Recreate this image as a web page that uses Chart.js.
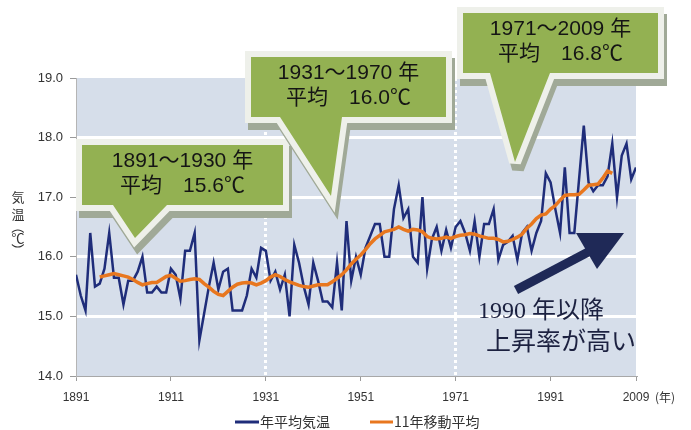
<!DOCTYPE html>
<html lang="ja">
<head>
<meta charset="UTF-8" />
<script src="https://cdn.jsdelivr.net/npm/chart.js@4.4.0/dist/chart.umd.min.js"></script>
<style>
  html, body { margin: 0; padding: 0; background: #fff; }
</style>
</head>
<body>
<canvas id="chart" width="691" height="430"></canvas>
<script>
// annual mean temperature, 1891-2009
const firstYear = 1891;
const annualTemp = [
  15.7, 15.35, 15.1, 16.4, 15.5, 15.55, 15.8, 16.4, 15.65, 15.65,
  15.2, 15.6, 15.6, 15.75, 16.0, 15.4, 15.4, 15.5, 15.4, 15.4,
  15.8, 15.7, 15.3, 16.1, 16.1, 16.4, 14.6, 15.05, 15.5, 15.9,
  15.45, 15.75, 15.8, 15.1, 15.1, 15.1, 15.35, 15.8, 15.65, 16.15,
  16.1, 15.6, 15.75, 15.45, 15.7, 15.0, 16.2, 15.9, 15.5, 15.2,
  15.9, 15.6, 15.25, 15.25, 15.15, 15.9, 15.1, 16.6, 15.6, 16.0,
  15.7, 16.15, 16.35, 16.55, 16.55, 16.0, 16.0, 16.8, 17.2, 16.65,
  16.8, 16.0, 15.9, 17.0, 15.8, 16.3, 16.5, 16.1, 16.45, 16.15,
  16.5, 16.6, 16.4, 16.1, 16.6, 16.0, 16.55, 16.55, 16.8, 15.95,
  16.2, 16.25, 16.35, 15.95, 16.4, 16.5, 16.1, 16.4, 16.6, 17.4,
  17.25, 16.8, 16.4, 17.5, 16.4, 16.4, 17.3, 18.2, 17.25, 17.1,
  17.2, 17.2, 17.35, 17.9, 17.0, 17.7, 17.9, 17.3, 17.5
];

// 11-year moving average, 1896-2004
const avgFirstYear = 1896;
const movingAvg = [
  15.66, 15.68, 15.70, 15.72, 15.70,
  15.68, 15.66, 15.62, 15.57, 15.53, 15.55, 15.57, 15.57, 15.62, 15.67,
  15.69, 15.64, 15.59, 15.60, 15.62, 15.63, 15.62, 15.55, 15.49, 15.42,
  15.37, 15.35, 15.42, 15.49, 15.54, 15.56, 15.57, 15.56, 15.53, 15.56,
  15.60, 15.66, 15.70, 15.67, 15.62, 15.58, 15.55, 15.52, 15.50, 15.49,
  15.51, 15.53, 15.53, 15.53, 15.58, 15.64, 15.70, 15.78, 15.88, 15.96,
  16.03, 16.12, 16.22, 16.30, 16.36, 16.42, 16.44, 16.46, 16.50, 16.46,
  16.43, 16.46, 16.45, 16.42, 16.34, 16.31, 16.30, 16.31, 16.33, 16.31,
  16.34, 16.36, 16.37, 16.39, 16.38, 16.35, 16.33, 16.31, 16.31, 16.29,
  16.25, 16.26, 16.29, 16.33, 16.38, 16.48, 16.55, 16.64, 16.70, 16.72,
  16.80, 16.86, 16.95, 17.03, 17.04, 17.04, 17.05, 17.12, 17.20, 17.21,
  17.22, 17.32, 17.44, 17.40
];

const xTickYears = [1891, 1911, 1931, 1951, 1971, 1991, 2009];
const dividerYears = [1931, 1971];
const seriesNames = ['年平均気温', '11年移動平均'];
const periodLabels = ['1891～1930 年', '1931～1970 年', '1971～2009 年'];
const periodMeans = ['平均　15.6℃', '平均　16.0℃', '平均　16.8℃'];
const noteLines = ['1990 年以降', '上昇率が高い'];

const BLUE = '#1f2d7a';
const ORANGE = '#e8771f';
const JP = '"Noto Sans CJK JP", sans-serif';

const annualPoints = annualTemp.map((v, i) => ({ x: firstYear + i, y: v }));
const avgPoints = movingAvg.map((v, i) => ({ x: avgFirstYear + i, y: v }));

const plotBg = {
  id: 'plotBg',
  beforeDraw(chart) {
    const { ctx, chartArea: a } = chart;
    ctx.save();
    ctx.fillStyle = '#d6deea';
    ctx.fillRect(a.left, a.top, a.right - a.left, a.bottom - a.top + 1);
    ctx.restore();
  }
};

function calloutPath(ctx, c) {
  ctx.beginPath();
  ctx.moveTo(c.l, c.t);
  ctx.lineTo(c.r, c.t);
  ctx.lineTo(c.r, c.b);
  ctx.lineTo(c.pr, c.b);
  ctx.lineTo(c.tx, c.ty);
  ctx.lineTo(c.pl, c.b);
  ctx.lineTo(c.l, c.b);
  ctx.closePath();
}

function drawCallout(ctx, c, line1, line2) {
  ctx.save();
  ctx.lineJoin = 'miter';
  ctx.miterLimit = 3;
  // shadow
  ctx.save();
  ctx.translate(3, 7);
  calloutPath(ctx, c);
  ctx.lineWidth = 12;
  ctx.strokeStyle = '#a0a997';
  ctx.fillStyle = '#a0a997';
  ctx.stroke();
  ctx.fill();
  ctx.restore();
  // pale rim
  calloutPath(ctx, c);
  ctx.lineWidth = 12;
  ctx.strokeStyle = '#eef0ea';
  ctx.stroke();
  ctx.fillStyle = '#93b152';
  ctx.fill();
  // text
  const cx = (c.l + c.r) / 2;
  ctx.fillStyle = '#151515';
  ctx.textAlign = 'center';
  ctx.textBaseline = 'middle';
  ctx.font = '21px "Liberation Sans", ' + JP;
  ctx.fillText(line1, cx, c.t + 16);
  ctx.fillText(line2, cx, c.t + 41);
  ctx.restore();
}

const extras = {
  id: 'extras',
  afterDraw(chart) {
    const ctx = chart.ctx;

    drawCallout(ctx, { l: 82, t: 145, r: 283, b: 205, pl: 113, pr: 167, tx: 135, ty: 238 }, periodLabels[0], periodMeans[0]);
    drawCallout(ctx, { l: 251, t: 57, r: 446, b: 117, pl: 280, pr: 342, tx: 331, ty: 196 }, periodLabels[1], periodMeans[1]);
    drawCallout(ctx, { l: 463, t: 13, r: 658, b: 73, pl: 490, pr: 550, tx: 515, ty: 162 }, periodLabels[2], periodMeans[2]);

    // arrow
    ctx.save();
    ctx.strokeStyle = '#1f2957';
    ctx.fillStyle = '#1f2957';
    ctx.lineWidth = 9;
    ctx.beginPath();
    ctx.moveTo(516, 290);
    ctx.lineTo(592, 250);
    ctx.stroke();
    ctx.beginPath();
    ctx.moveTo(576, 233);
    ctx.lineTo(624, 233);
    ctx.lineTo(597, 269);
    ctx.closePath();
    ctx.fill();

    ctx.fillStyle = '#1c2140';
    ctx.textAlign = 'left';
    ctx.textBaseline = 'middle';
    ctx.font = '24px "Liberation Serif", ' + JP;
    ctx.fillText(noteLines[0], 478, 312);
    ctx.font = '25px ' + JP;
    ctx.fillText(noteLines[1], 486, 340);
    ctx.restore();

    // y title, stacked vertically
    ctx.save();
    ctx.fillStyle = '#333';
    ctx.font = '13px ' + JP;
    ctx.textAlign = 'center';
    ctx.textBaseline = 'middle';
    ctx.fillText('気', 18, 197);
    ctx.fillText('温', 18, 214);
    ctx.fillText('℃', 18, 238);
    [[18, 227, '（'], [18, 250, '）']].forEach(([x, y, ch]) => {
      ctx.save();
      ctx.translate(x, y);
      ctx.rotate(Math.PI / 2);
      ctx.fillText(ch, 0, 0);
      ctx.restore();
    });
    ctx.restore();

    // unit after last x label
    ctx.save();
    ctx.fillStyle = '#333';
    ctx.font = '12px ' + JP;
    ctx.textAlign = 'left';
    ctx.textBaseline = 'middle';
    ctx.fillText('(年)', 655, 397);
    ctx.restore();

    // legend
    ctx.save();
    ctx.font = '14px ' + JP;
    ctx.textBaseline = 'middle';
    ctx.fillStyle = '#333';
    ctx.lineWidth = 3;
    ctx.strokeStyle = BLUE;
    ctx.beginPath(); ctx.moveTo(235, 422); ctx.lineTo(259, 422); ctx.stroke();
    ctx.fillText(seriesNames[0], 260, 422);
    ctx.strokeStyle = ORANGE;
    ctx.beginPath(); ctx.moveTo(370, 422); ctx.lineTo(393, 422); ctx.stroke();
    ctx.fillText(seriesNames[1], 394, 422);
    ctx.restore();
  }
};

new Chart(document.getElementById('chart'), {
  type: 'line',
  data: {
    datasets: [
      { label: seriesNames[0], data: annualPoints, borderColor: BLUE, backgroundColor: BLUE,
        borderWidth: 2.5, pointRadius: 0, tension: 0, order: 2 },
      { label: seriesNames[1], data: avgPoints, borderColor: ORANGE, backgroundColor: ORANGE,
        borderWidth: 3.5, pointRadius: 0, tension: 0, order: 1 }
    ]
  },
  options: {
    responsive: false,
    animation: false,
    layout: { padding: { top: 78, right: 55, left: 0, bottom: 0 } },
    plugins: { legend: { display: false }, tooltip: { enabled: false } },
    scales: {
      x: {
        type: 'linear', min: 1891, max: 2009,
        afterBuildTicks: s => { s.ticks = xTickYears.map(v => ({ value: v })); },
        afterFit: s => { s.height = 54; },
        grid: {
          color: c => (c.tick && dividerYears.includes(c.tick.value)) ? '#ffffff' : 'rgba(0,0,0,0)',
          lineWidth: 3, tickColor: '#9a9a9a', tickWidth: 1, tickLength: 5
        },
        border: { color: '#a8a8a8', width: 1, dash: [3, 3] },
        ticks: {
          color: '#333', font: { family: '"Liberation Sans"', size: 12 },
          maxRotation: 0, autoSkip: false, padding: 9,
          callback: v => String(v)
        }
      },
      y: {
        min: 14, max: 19,
        afterFit: s => { s.width = 76; },
        grid: {
          color: c => (c.tick && c.tick.value > 14 && c.tick.value < 19) ? '#ffffff' : 'rgba(0,0,0,0)',
          lineWidth: 3, tickColor: '#9a9a9a', tickWidth: 1, tickLength: 6
        },
        border: { color: '#b5b5b5', width: 1 },
        ticks: {
          stepSize: 1, color: '#333', font: { family: '"Liberation Sans"', size: 13 },
          padding: 7, callback: v => v.toFixed(1)
        }
      }
    }
  },
  plugins: [plotBg, extras]
});
</script>
</body>
</html>
